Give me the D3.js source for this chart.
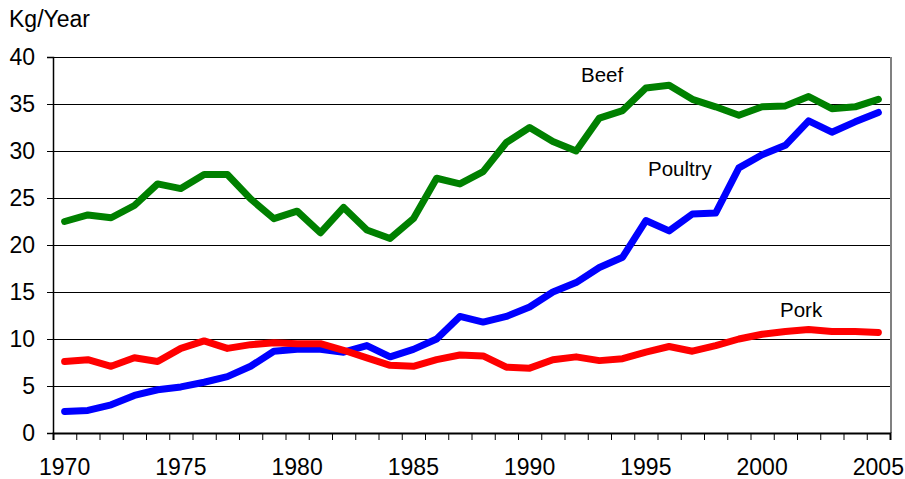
<!DOCTYPE html>
<html>
<head>
<meta charset="utf-8">
<script src="https://cdn.jsdelivr.net/npm/d3@7"></script>
<style>
    body { margin: 0; background: #fff; }
    svg text { font-family: "Liberation Sans", Arial, sans-serif; fill: #000; }
</style>
</head>
<body>
<svg id="chart" width="905" height="479"></svg>
<script>

// data (kg per person per year)
const years = d3.range(1970, 2006)
const beef = [22.5, 23.2, 22.9, 24.2, 26.5, 26.0, 27.5, 27.5, 24.9, 22.8,
    23.6, 21.3, 24.0, 21.6, 20.7, 22.8, 27.1, 26.5, 27.8, 30.9,
    32.5, 31.0, 30.0, 33.5, 34.3, 36.7, 37.0, 35.5, 34.7, 33.8,
    34.7, 34.8, 35.8, 34.5, 34.7, 35.5]
const poultry = [2.3, 2.4, 3.0, 4.0, 4.6, 4.9, 5.4, 6.0, 7.1, 8.7,
    8.9, 8.9, 8.6, 9.3, 8.1, 8.9, 10.0, 12.4, 11.8, 12.4,
    13.4, 15.0, 16.0, 17.6, 18.7, 22.6, 21.5, 23.3, 23.4, 28.2,
    29.6, 30.6, 33.2, 32.0, 33.1, 34.1]
const pork = [7.6, 7.8, 7.1, 8.0, 7.6, 9.0, 9.8, 9.0, 9.4, 9.6,
    9.5, 9.5, 8.8, 8.0, 7.2, 7.1, 7.8, 8.3, 8.2, 7.0,
    6.9, 7.8, 8.1, 7.7, 7.9, 8.6, 9.2, 8.7, 9.3, 10.0,
    10.5, 10.8, 11.0, 10.8, 10.8, 10.7]
const yTicks = [0, 5, 10, 15, 20, 25, 30, 35, 40]
const xLabels = [1970, 1975, 1980, 1985, 1990, 1995, 2000, 2005]

const series = [
    {name: "Beef", values: beef, color: "#008000", lx: 581, ly: 82},
    {name: "Poultry", values: poultry, color: "#0000ff", lx: 648, ly: 176},
    {name: "Pork", values: pork, color: "#ff0000", lx: 780, ly: 317},
]

const svg = d3.select("#chart")
const plot = {left: 53, right: 890, top: 57, bottom: 433}

const x = d3.scaleLinear().domain([1969.5, 2005.5]).range([plot.left, plot.right])
const y = d3.scaleLinear().domain([0, 40]).range([plot.bottom, plot.top])

// gridlines
svg.append("g")
    .selectAll("line")
    .data(yTicks.filter(d => d > 0))
    .join("line")
    .attr("x1", plot.left).attr("x2", plot.right)
    .attr("y1", d => y(d)).attr("y2", d => y(d))
    .attr("stroke", "#000").attr("stroke-width", 1)
    .attr("shape-rendering", "crispEdges")

// right border of plot area
svg.append("line")
    .attr("x1", plot.right + 1).attr("x2", plot.right + 1)
    .attr("y1", plot.top).attr("y2", plot.bottom)
    .attr("stroke", "#808080").attr("stroke-width", 2)
    .attr("shape-rendering", "crispEdges")

// y axis
const yAxis = svg.append("g")
    .attr("transform", `translate(${plot.left},0)`)
    .call(d3.axisLeft(y).tickValues(yTicks).tickSize(6).tickPadding(12))
yAxis.select(".domain").attr("stroke", "#000").attr("stroke-width", 1.5)
yAxis.selectAll("text").style("font-size", "23px")
    .style("font-family", '"Liberation Sans", Arial, sans-serif')

// x axis: ticks between categories, labels every 5 years
const boundaries = d3.range(1969.5, 2006, 1)
const xAxis = svg.append("g")
    .attr("transform", `translate(0,${plot.bottom})`)
    .call(d3.axisBottom(x).tickValues(boundaries).tickSize(7).tickFormat(""))
xAxis.select(".domain").attr("stroke", "#000").attr("stroke-width", 2)

svg.append("g")
    .selectAll("text")
    .data(xLabels)
    .join("text")
    .attr("x", d => x(d))
    .attr("y", 475)
    .attr("text-anchor", "middle")
    .style("font-size", "23px")
    .text(d => d)

// lines
const line = d3.line()
    .x((d, i) => x(years[i]))
    .y(d => y(d))

svg.append("g")
    .selectAll("path")
    .data(series)
    .join("path")
    .attr("d", d => line(d.values))
    .attr("fill", "none")
    .attr("stroke", d => d.color)
    .attr("stroke-width", 7)
    .attr("stroke-linejoin", "round")
    .attr("stroke-linecap", "round")

// series labels
svg.append("g")
    .selectAll("text")
    .data(series)
    .join("text")
    .attr("x", d => d.lx)
    .attr("y", d => d.ly)
    .style("font-size", "20.5px")
    .text(d => d.name)

svg.append("text")
    .attr("x", 9)
    .attr("y", 27)
    .style("font-size", "23px")
    .text("Kg/Year")

</script>
</body>
</html>
